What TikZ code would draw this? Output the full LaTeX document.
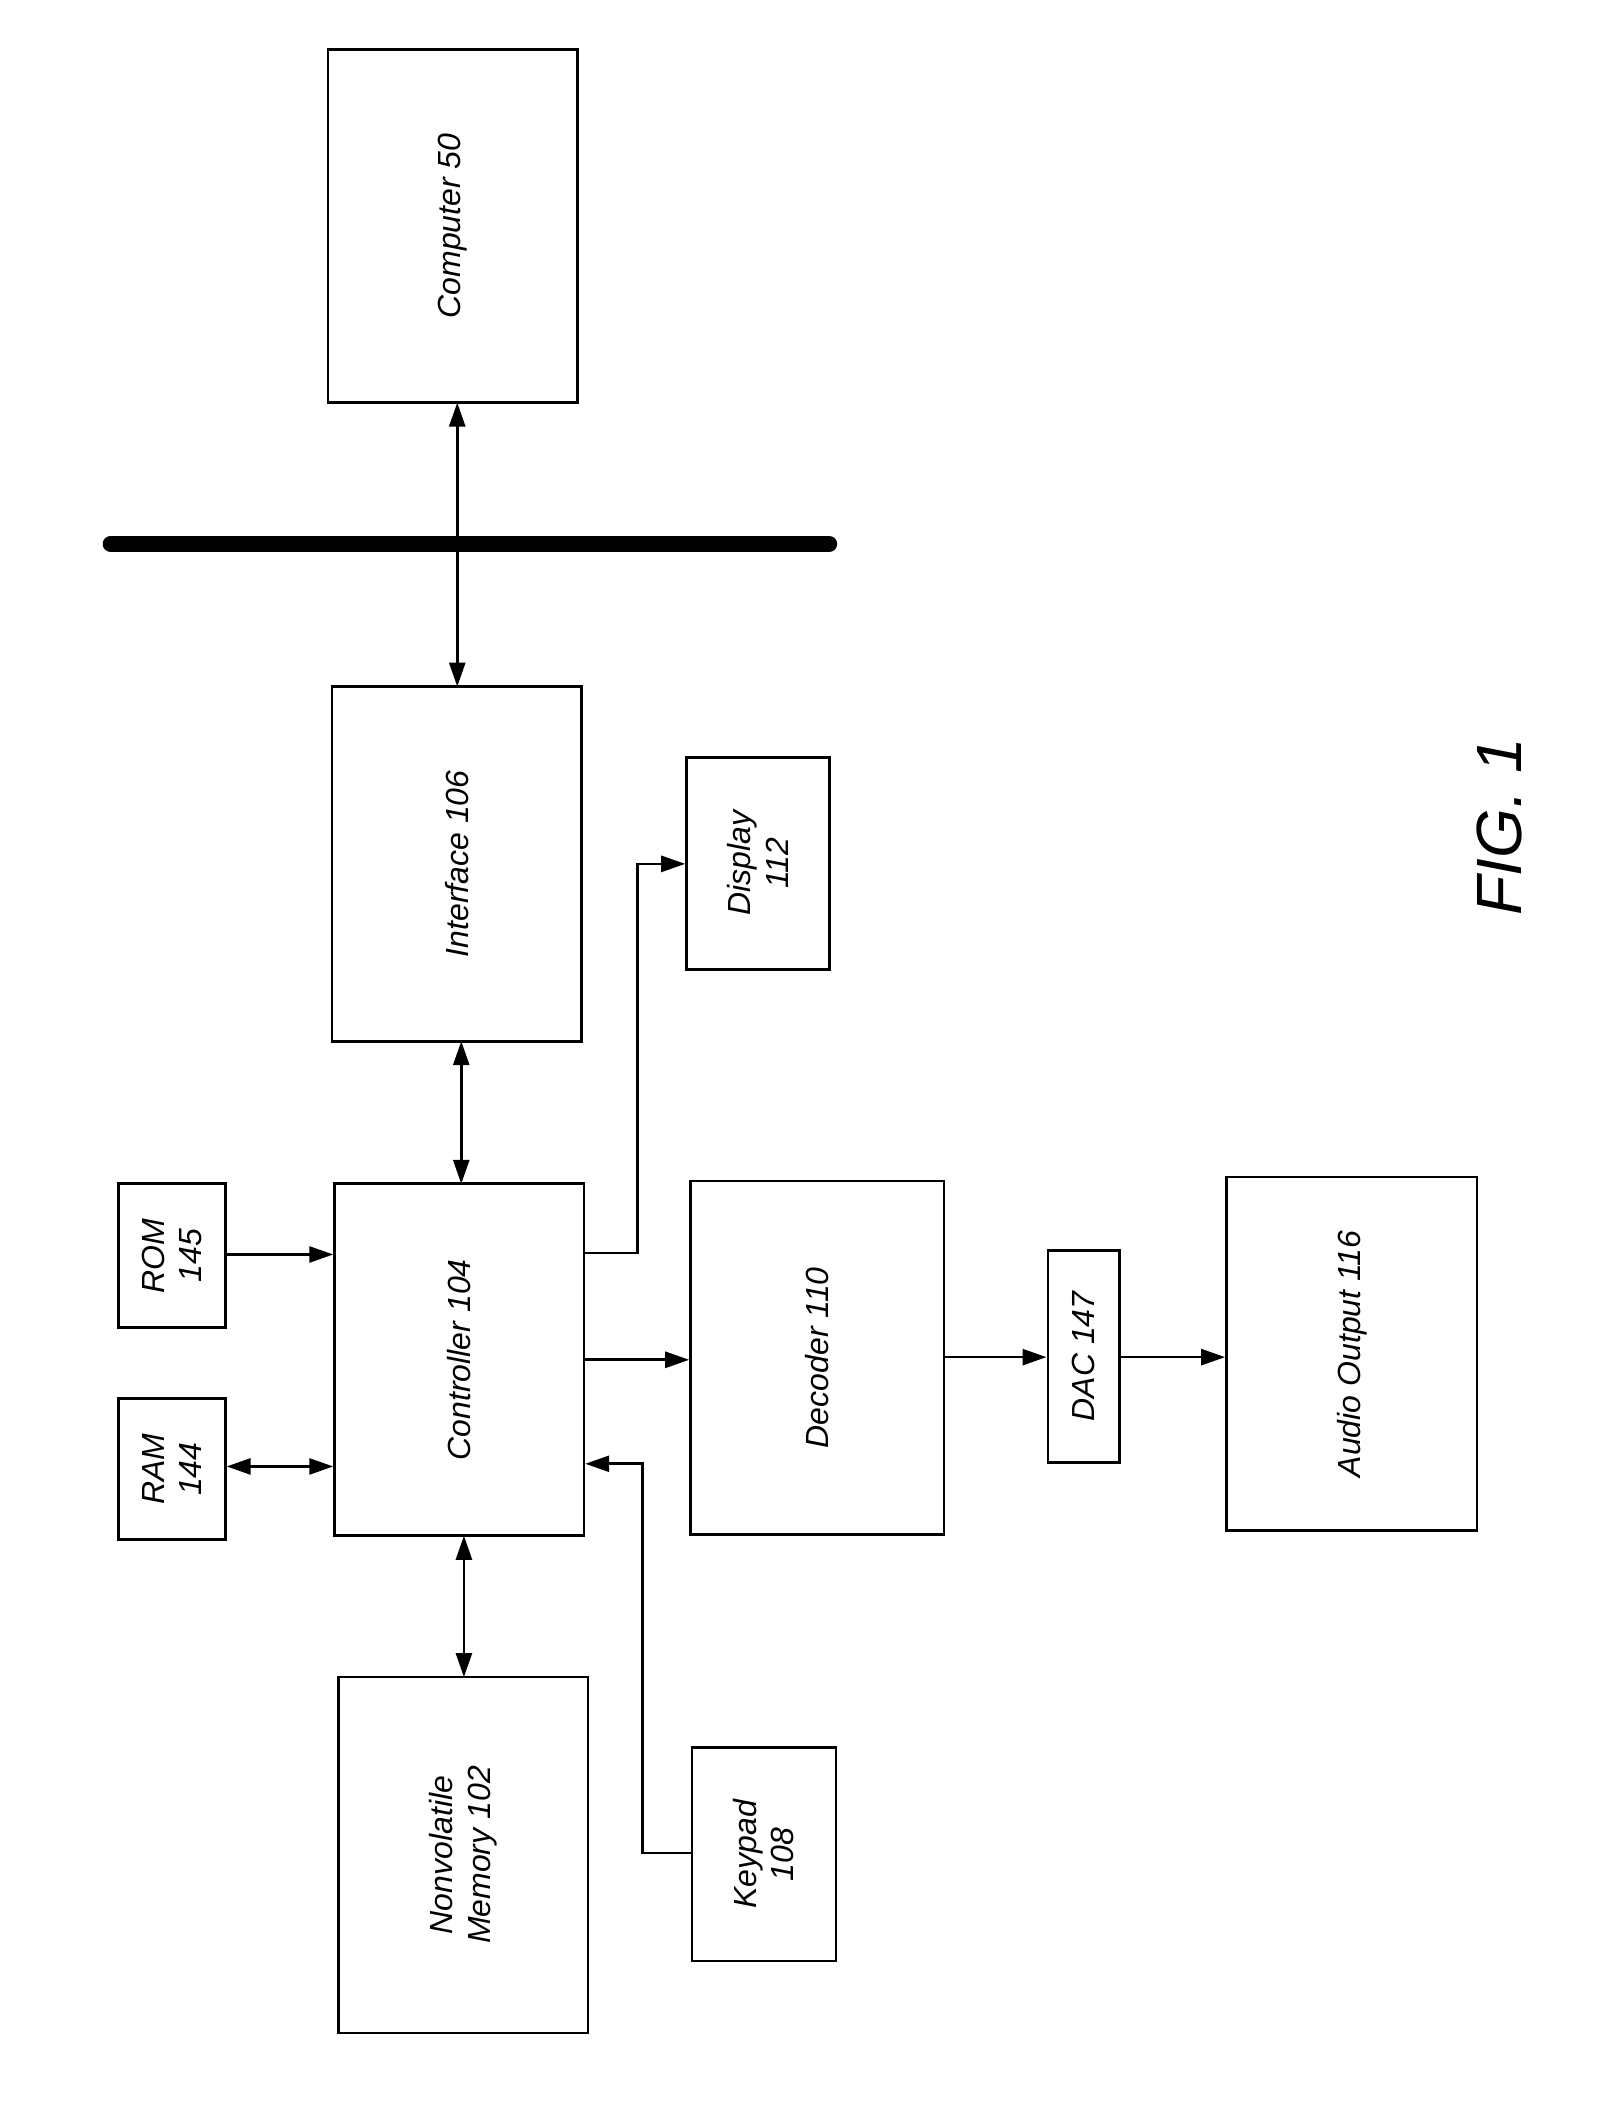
\documentclass[tikz,border=0pt]{standalone}
\usepackage{fontspec}
\setmainfont{Liberation Sans}
\usetikzlibrary{arrows.meta}
\begin{document}
\begin{tikzpicture}[x=0.5pt,y=-0.5pt,
 box/.style={draw,line width=1pt,inner sep=0pt},
 lab/.style={rotate=90,align=center,font=\fontsize{12}{14}\selectfont\itshape},
 arr/.style={line width=1pt,-{Triangle[length=9pt,width=6pt]}},
 darr/.style={line width=1pt,{Triangle[length=9pt,width=6pt]}-{Triangle[length=9pt,width=6pt]}}]
\useasboundingbox (0,0) rectangle (1200,1576);
\newcommand\bx[6]{\node[box,minimum width={(#4-#2)*0.5pt},minimum height={(#5-#3)*0.5pt}] (#1) at ({(#2+#4)/2},{(#3+#5)/2}) {};
 \node[lab] at (#1.center) {#6};}
\bx{comp}{246}{37}{433}{302}{Computer 50}
\bx{intf}{249}{515}{436}{781}{Interface 106}
\bx{disp}{515}{568}{622}{727}{Display\\112}
\bx{rom}{89}{888}{169}{996}{ROM\\145}
\bx{ram}{89}{1049}{169}{1155}{RAM\\144}
\bx{ctrl}{251}{888}{438}{1152}{Controller 104}
\bx{dec}{518}{886}{708}{1151}{Decoder 110}
\bx{dac}{786}{938}{840}{1097}{DAC 147}
\bx{aud}{920}{883}{1108}{1148}{Audio Output 116}
\bx{nvm}{254}{1258}{441}{1525}{Nonvolatile\\Memory 102}
\bx{key}{519}{1311}{627}{1471}{Keypad\\108}
\coordinate (b1) at (83,408); \coordinate (b2) at (622,408);
\draw[line width=6pt,line cap=round] (b1) -- (b2);
\node[rotate=90,font=\fontsize{24}{28}\selectfont\itshape] (fig) at (1125,620) {FIG. 1};
\draw[darr] (343,302) -- (343,515);
\draw[darr] (346,781) -- (346,888);
\draw[arr] (rom.east |- 0,941) -- (ctrl.west |- 0,941);
\draw[darr] (ram.east |- 0,1100) -- (ctrl.west |- 0,1100);
\draw[darr] (348,1152) -- (348,1258);
\draw[arr] (ctrl.east |- 0,940) -- (478,940) -- (478,648) -- (disp.west |- 0,648);
\draw[arr] (ctrl.east |- 0,1020) -- (dec.west |- 0,1020);
\draw[arr] (key.west |- 0,1390) -- (482,1390) -- (482,1098) -- (ctrl.east |- 0,1098);
\draw[arr] (dec.east |- 0,1018) -- (dac.west |- 0,1018);
\draw[arr] (dac.east |- 0,1018) -- (aud.west |- 0,1018);
\end{tikzpicture}
\end{document}
